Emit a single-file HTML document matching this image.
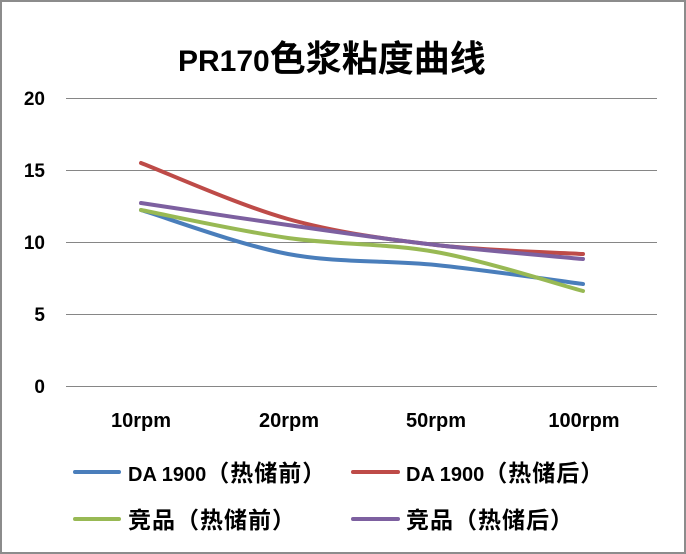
<!DOCTYPE html>
<html><head><meta charset="utf-8"><style>
html,body{margin:0;padding:0;background:#fff;}
svg{display:block;}
text{font-family:"Liberation Sans","Noto Sans CJK SC",sans-serif;font-weight:bold;fill:#000;}
.c{font-family:"Noto Sans CJK SC",sans-serif;}
</style></head><body>
<svg width="686" height="554" viewBox="0 0 686 554" xmlns="http://www.w3.org/2000/svg">
<rect x="1" y="1" width="684" height="552" fill="#fff" stroke="#8c8c8c" stroke-width="2"/>
<text x="178" y="71" font-size="30">PR170<tspan class="c" font-size="36">色浆粘度曲线</tspan></text>
<g stroke="#868686" stroke-width="1">
<line x1="66" y1="98.5" x2="657" y2="98.5"/>
<line x1="66" y1="170.5" x2="657" y2="170.5"/>
<line x1="66" y1="242.5" x2="657" y2="242.5"/>
<line x1="66" y1="314.5" x2="657" y2="314.5"/>
<line x1="66" y1="386.5" x2="657" y2="386.5"/>
</g>
<g font-size="19" text-anchor="end">
<text x="45" y="105">20</text>
<text x="45" y="177">15</text>
<text x="45" y="249">10</text>
<text x="45" y="321">5</text>
<text x="45" y="393">0</text>
</g>
<g font-size="20" text-anchor="middle">
<text x="141" y="427">10rpm</text>
<text x="289" y="427">20rpm</text>
<text x="436" y="427">50rpm</text>
<text x="584" y="427">100rpm</text>
</g>
<g fill="none" stroke-width="4" stroke-linecap="round">
<path stroke="#4a7ebb" d="M141,210 C165.5,217.3 238.8,244.8 288,254 C337.2,263.2 386.8,260 436,265 C485.2,270 558.5,280.8 583,284"/>
<path stroke="#be4b48" d="M141,163 C165.5,172.3 238.8,205.3 288,219 C337.2,232.7 386.8,239.2 436,245 C485.2,250.8 558.5,252.5 583,254"/>
<path stroke="#98b954" d="M141,210 C165.5,214.7 238.8,231 288,238 C337.2,245 386.8,243.2 436,252 C485.2,260.8 558.5,284.5 583,291"/>
<path stroke="#7d60a0" d="M141,203 C165.5,206.7 238.8,218 288,225 C337.2,232 386.8,239.3 436,245 C485.2,250.7 558.5,256.7 583,259"/>
</g>
<g stroke-width="4" stroke-linecap="round">
<line x1="75" y1="472" x2="119" y2="472" stroke="#4a7ebb"/>
<line x1="353" y1="472" x2="398" y2="472" stroke="#be4b48"/>
<line x1="75" y1="519" x2="119" y2="519" stroke="#98b954"/>
<line x1="353" y1="519" x2="398" y2="519" stroke="#7d60a0"/>
</g>
<g font-size="20">
<text x="128" y="481">DA 1900<tspan class="c" font-size="23" letter-spacing="1">（热储前）</tspan></text>
<text x="406" y="481">DA 1900<tspan class="c" font-size="23" letter-spacing="1">（热储后）</tspan></text>
<text x="128" y="528" class="c" font-size="23" letter-spacing="1">竞品（热储前）</text>
<text x="406" y="528" class="c" font-size="23" letter-spacing="1">竞品（热储后）</text>
</g>
</svg>
</body></html>
